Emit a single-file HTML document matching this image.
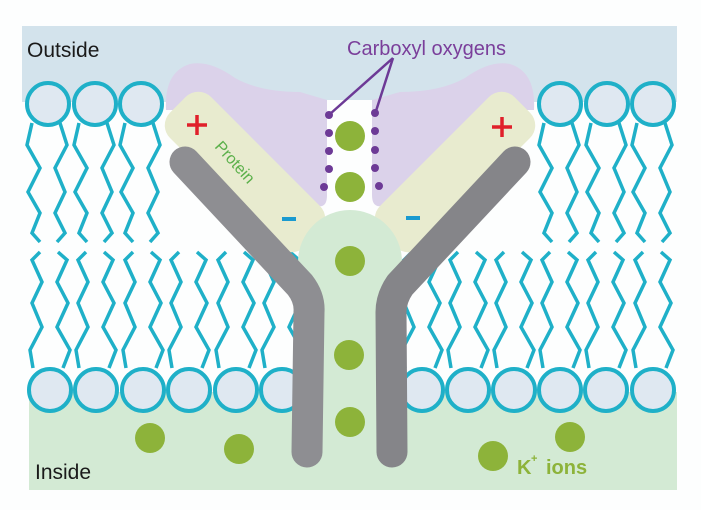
<!DOCTYPE html>
<html><head><meta charset="utf-8"><style>
html,body{margin:0;padding:0;background:#fff;}
svg{display:block;}
text{font-family:"Liberation Sans",sans-serif;}
</style></head><body>
<svg width="701" height="510" viewBox="0 0 701 510" xmlns="http://www.w3.org/2000/svg">
<defs>
<g id="ut" fill="none" stroke="#1fb0c8" stroke-width="3.5" stroke-linejoin="miter">
<polyline points="-16,0 -21,22 -8,45 -20,69 -8,90 -16,110 -8,119"/>
<polyline points="12,0 19,22 7,45 17,69 7,90 17,110 9,119"/>
</g>
<g id="lt" fill="none" stroke="#1fb0c8" stroke-width="3.5">
<polyline points="-10,0 -18,8 -8,30 -18,51 -8,75 -20,98 -17,116"/>
<polyline points="8,0 17,8 7,30 18,51 7,75 20,98 13,116"/>
</g>
</defs>
<rect width="701" height="510" fill="#fdfefe"/>
<rect x="22" y="26" width="655" height="76" fill="#d3e3ec"/>
<rect x="29" y="392" width="648" height="98" fill="#d3ead4"/>
<g transform="translate(0,123)">
<use href="#ut" x="48"/><use href="#ut" x="95"/><use href="#ut" x="141"/>
<use href="#ut" x="560"/><use href="#ut" x="607"/><use href="#ut" x="653"/>
</g>
<g transform="translate(0,252)">
<use href="#lt" x="50"/><use href="#lt" x="96"/><use href="#lt" x="143"/><use href="#lt" x="189"/><use href="#lt" x="236"/><use href="#lt" x="282"/>
<use href="#lt" x="422"/><use href="#lt" x="468"/><use href="#lt" x="514"/><use href="#lt" x="560"/><use href="#lt" x="606"/><use href="#lt" x="653"/>
</g>
<g fill="#dfe8f1" stroke="#1fb0c8" stroke-width="4">
<circle cx="48" cy="104" r="21"/><circle cx="95" cy="104" r="21"/><circle cx="141" cy="104" r="21"/>
<circle cx="560" cy="104" r="21"/><circle cx="607" cy="104" r="21"/><circle cx="653" cy="104" r="21"/>
<circle cx="50" cy="390" r="21"/><circle cx="96" cy="390" r="21"/><circle cx="143" cy="390" r="21"/><circle cx="189" cy="390" r="21"/><circle cx="236" cy="390" r="21"/><circle cx="282" cy="390" r="21"/>
<circle cx="422" cy="390" r="21"/><circle cx="468" cy="390" r="21"/><circle cx="514" cy="390" r="21"/><circle cx="560" cy="390" r="21"/><circle cx="606" cy="390" r="21"/><circle cx="653" cy="390" r="21"/>
</g>
<path d="M166,110 Q164,72 190,64 Q210,60 235,78 Q260,92 300,92 L327,100 L327,195 Q327,208 318,206 Q300,200 290,180 L210,110 Z" fill="#dbd2ea"/>
<path d="M534,110 Q536,72 510,64 Q490,60 465,78 Q440,92 400,92 L372,100 L372,195 Q372,208 382,206 Q400,200 410,180 L490,110 Z" fill="#dbd2ea"/>
<rect x="327" y="100" width="45" height="110" fill="#fdfefe"/>
<rect x="150" y="143" width="190" height="58" rx="18" fill="#e8ebcf" transform="rotate(45 245 172)"/>
<rect x="360" y="143" width="190" height="58" rx="18" fill="#e8ebcf" transform="rotate(-45 455 172)"/>
<circle cx="350" cy="262" r="52" fill="#d3ead4"/>
<rect x="318" y="262" width="64" height="220" fill="#d3ead4"/>
<path d="M185,162 L300,285 Q310,298 309,312 L307,452" fill="none" stroke="#8e8e92" stroke-width="31" stroke-linecap="round" stroke-linejoin="round"/>
<path d="M515,162 L400,285 Q391,298 391,312 L392,452" fill="none" stroke="#858589" stroke-width="31" stroke-linecap="round" stroke-linejoin="round"/>
<g fill="#8db33a">
<circle cx="350" cy="136" r="15"/><circle cx="350" cy="187" r="15"/><circle cx="350" cy="261" r="15"/><circle cx="349" cy="355" r="15"/><circle cx="350" cy="422" r="15"/>
<circle cx="150" cy="438" r="15"/><circle cx="239" cy="449" r="15"/><circle cx="493" cy="456" r="15"/><circle cx="570" cy="437" r="15"/>
</g>
<g fill="#6d3a96">
<circle cx="329" cy="115" r="4"/><circle cx="329" cy="133" r="4"/><circle cx="329" cy="151" r="4"/><circle cx="329" cy="169" r="4"/><circle cx="324" cy="187" r="4"/>
<circle cx="375" cy="113" r="4"/><circle cx="375" cy="131" r="4"/><circle cx="375" cy="150" r="4"/><circle cx="375" cy="168" r="4"/><circle cx="379" cy="186" r="4"/>
</g>
<path d="M393,58 L330,114 M393,58 L376,111" stroke="#6d3a96" stroke-width="2.5" fill="none"/>
<text x="347" y="55" font-size="20" fill="#7a3e9a">Carboxyl oxygens</text>
<text x="27" y="57" font-size="21" fill="#1a1a1a">Outside</text>
<text x="35" y="479" font-size="21" fill="#1a1a1a">Inside</text>
<text x="517" y="474" font-size="20" font-weight="bold" fill="#8db33a">K</text><text x="531" y="462" font-size="11" font-weight="bold" fill="#8db33a">+</text>
<text x="546" y="474" font-size="20" font-weight="bold" fill="#8db33a">ions</text>
<path d="M187,125 H207 M197,115 V135 M492,127 H512 M502,117 V137" stroke="#e0202a" stroke-width="3.5"/>
<path d="M282,219 H296 M406,218 H420" stroke="#1a9ad0" stroke-width="4"/>
<text x="0" y="0" font-size="16" fill="#5bb04a" transform="translate(214,147) rotate(48)">Protein</text>
</svg>
</body></html>
